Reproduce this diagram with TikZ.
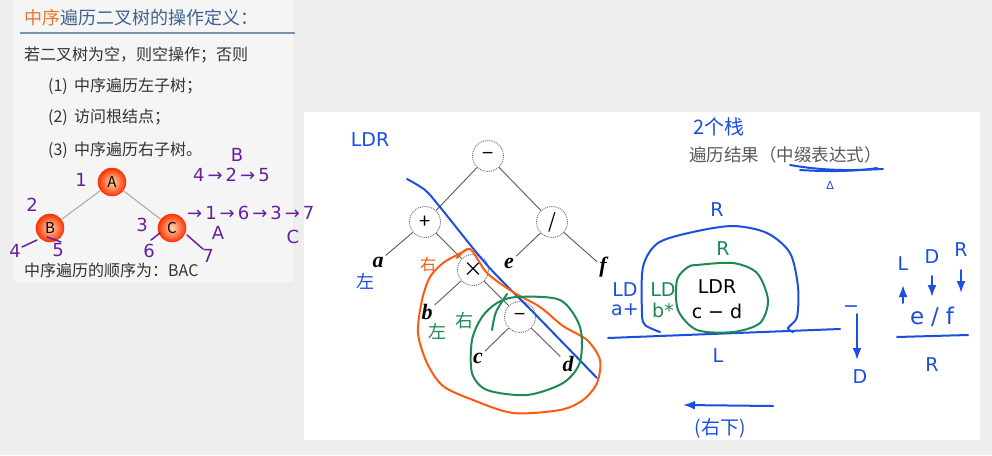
\documentclass[tikz,border=0pt]{standalone}
\usepackage{fontspec}
\setmainfont{Noto Sans CJK SC}
\newfontfamily\handfont{DejaVu Sans}
\newfontfamily\leaffont{Liberation Serif}
\newfontfamily\cjkhand{Noto Sans CJK SC}
\usetikzlibrary{arrows.meta,positioning,calc}
\definecolor{pagebg}{HTML}{EEEEEE}
\definecolor{panelbg}{HTML}{F5F5F5}
\definecolor{titleblue}{HTML}{3F6390}
\definecolor{titleorange}{HTML}{E8782A}
\definecolor{bodygray}{HTML}{333333}
\definecolor{inkblue}{HTML}{1A4FE0}
\definecolor{inkgreen}{HTML}{1E8A50}
\definecolor{inkorange}{HTML}{FF5A12}
\definecolor{inkpurple}{HTML}{6A1E9E}
\begin{document}
\begin{tikzpicture}[x=1pt,y=-1pt,>=Latex,
  slidetext/.style={anchor=west,inner sep=0pt,text=bodygray,font=\fontsize{16}{18}\selectfont},
  ballnode/.style={circle,minimum size=28pt,inner sep=0pt,draw=red!80!orange,inner color=orange!30!white,outer color=red!60!orange,font=\fontsize{15}{16}\selectfont},
  treeedge/.style={draw=gray!70,line width=1pt},
  opnode/.style={circle,draw=gray!80!black,densely dotted,line width=0.9pt,minimum size=31pt,inner sep=0pt,font=\fontsize{20}{20}\selectfont},
  leafnode/.style={inner sep=2pt,font=\leaffont\bfseries\itshape\fontsize{22}{22}\selectfont},
  opedge/.style={draw=gray!70!black,line width=0.9pt},
  purple ink/.style={text=inkpurple,inner sep=0pt,font=\handfont\fontsize{18}{19}\selectfont},
  blue ink/.style={text=inkblue,inner sep=0pt,font=\handfont\fontsize{19}{20}\selectfont},
  green ink/.style={text=inkgreen,inner sep=0pt,font=\handfont\fontsize{19}{20}\selectfont},
  black ink/.style={text=black,inner sep=0pt,font=\handfont\fontsize{19}{20}\selectfont},
  pen/.style={line width=2pt,line cap=round,line join=round}]
\fill[pagebg] (0,0) rectangle (992,455);
\useasboundingbox (0,0) rectangle (992,455);
\fill[panelbg] (14,0) rectangle (293,282);
\fill[white] (304,112) rectangle (980,440);

% slide: definition
\node[slidetext,text=titleblue,font=\fontsize{18}{20}\selectfont] (title) at (24,18) {\textcolor{titleorange}{中序}遍历二叉树的操作定义：};
\draw[titleblue!70,line width=1.2pt] (20,33) -- (295,33);
\node[slidetext] (rule) at (24,55) {若二叉树为空，则空操作；否则};
\node[slidetext] (step1) at (48,86) {(1)\, 中序遍历左子树；};
\node[slidetext] (step2) at (48,117) {(2)\, 访问根结点；};
\node[slidetext] (step3) at (48,150) {(3)\, 中序遍历右子树。};
\node[slidetext] (order) at (24,270) {中序遍历的顺序为：BAC};

% slide: small tree
\node[ballnode] (A) at (112,182) {A};
\node[ballnode] (B) at (50,228) {B};
\node[ballnode] (C) at (172,228) {C};
\draw[treeedge] (A) -- (B);
\draw[treeedge] (A) -- (C);

% purple notes
\node[purple ink] (n1) at (81,180) {1};
\node[purple ink] (n2) at (32,205) {2};
\node[purple ink] (n3) at (142,225) {3};
\node[purple ink] (n4) at (15,251) {4};
\node[purple ink] (n5) at (58,250) {5};
\node[purple ink] (n6) at (149,251) {6};
\node[purple ink] (n7) at (208,256) {7};
\draw[inkpurple,pen,line width=1.5pt] (22,247) -- (37,240);
\draw[inkpurple,pen,line width=1.5pt] (47,237) -- (61,242);
\draw[inkpurple,pen,line width=1.5pt] (151,240) -- (160,233);
\draw[inkpurple,pen,line width=1.5pt] (187,235) -- (203,249);
\node[purple ink] (subB) at (237,155) {B};
\node[purple ink,anchor=west] (leftseq) at (193,175) {4\,→\,2\,→\,5};
\node[purple ink,anchor=west] (mainseq) at (187,213) {→\,1\,→\,6\,→\,3\,→\,7};
\node[purple ink] (subA) at (218,233) {A};
\node[purple ink] (subC) at (293,237) {C};

% expression tree
\node[opnode] (root) at (488,156) {−};
\node[opnode] (plus) at (425,222) {+};
\node[opnode] (divide) at (552,222) {/};
\node[opnode] (times) at (473,270) {×};
\node[opnode] (minus) at (520,317) {−};
\node[leafnode] (la) at (378,262) {a};
\node[leafnode] (le) at (509,263) {e};
\node[leafnode] (lf) at (603,267) {f};
\node[leafnode] (lb) at (427,312) {b};
\node[leafnode] (lc) at (478,358) {c};
\node[leafnode] (ld) at (568,364) {d};
\draw[opedge] (root) -- (plus);
\draw[opedge] (root) -- (divide);
\draw[opedge] (plus) -- (la);
\draw[opedge] (plus) -- (times);
\draw[opedge] (divide) -- (le);
\draw[opedge] (divide) -- (lf);
\draw[opedge] (times) -- (lb);
\draw[opedge] (times) -- (minus);
\draw[opedge] (minus) -- (lc);
\draw[opedge] (minus) -- (ld);

% ink on the expression tree
\node[blue ink] (ldr) at (370,140) {LDR};
\node[blue ink,font=\cjkhand\fontsize{18}{18}\selectfont] (zuo1) at (365,281) {左};
\node[text=inkorange,inner sep=0pt,font=\cjkhand\fontsize{16}{16}\selectfont] (you1) at (428,264) {右};
\node[green ink,font=\cjkhand\fontsize{18}{18}\selectfont] (zuo2) at (437,331) {左};
\node[green ink,font=\cjkhand\fontsize{18}{18}\selectfont] (you2) at (464,321) {右};
\draw[inkblue,pen] plot[smooth] coordinates {(407,179) (425,190) (440,207) (487,265) (533,312) (597,378)};
\draw[inkorange,pen] plot[smooth] coordinates {(457,258) (470,249) (487,273) (513,292) (540,307) (563,326) (587,340) (600,360) (597,383) (583,400) (560,410) (513,413) (473,400) (443,386) (427,363) (418,333) (422,300) (430,277) (443,263) (457,255) (468,249)};
\draw[inkgreen,pen] plot[smooth cycle] coordinates {(517,297) (560,300) (580,327) (580,362) (563,383) (527,395) (487,390) (472,373) (472,340) (482,317) (497,303)};
\draw[inkgreen,pen] plot[smooth] coordinates {(492,330) (496,312) (507,294)};

% two stacks
\node[blue ink,font=\cjkhand\fontsize{20}{20}\selectfont] (stacks) at (719,127) {2个栈};
\node[anchor=west,inner sep=0pt,text=black!65,font=\fontsize{17.5}{19}\selectfont] (result) at (689,155) {遍历结果（中缀表达式）};
\draw[inkblue,pen] (790,165) .. controls (830,172) and (860,170) .. (883,169);
\draw[inkblue,pen] (800,170) .. controls (830,172) and (860,171) .. (877,168);
\node[blue ink,font=\handfont\fontsize{11}{11}\selectfont] (delta) at (830,185) {Δ};

% blobs
\draw[inkblue,pen] plot[smooth] coordinates {(660,332) (645,325) (642,313) (643,267) (658,243) (693,232) (733,226) (767,233) (790,253) (798,287) (797,317) (788,328) (793,332)};
\draw[inkblue,pen] (608,338) -- (840,329);
\draw[inkgreen,pen] plot[smooth cycle] coordinates {(697,265) (733,263) (757,273) (768,300) (760,323) (733,332) (697,330) (678,310) (677,280) (688,267)};
\node[blue ink] (outerR) at (717,210) {R};
\node[green ink] (innerR) at (723,249) {R};
\node[blue ink] (outerL) at (718,356) {L};
\node[black ink] (cldr) at (717,287) {LDR};
\node[black ink] (cmd) at (717,311) {c − d};
\node[blue ink] (ald) at (625,290) {LD};
\node[blue ink] (aplus) at (625,310) {a+};
\node[green ink] (bld) at (663,290) {LD};
\node[green ink] (btimes) at (663,310) {b*};

% root goes down
\node[blue ink] (rootminus) at (851,309) {−};
\node[blue ink] (rootD) at (860,377) {D};
\draw[inkblue,pen,->] (857,314) -- (857,360);

% right subtree e / f
\node[blue ink] (eL) at (903,264) {L};
\node[blue ink] (eD) at (932,257) {D};
\node[blue ink] (eR) at (961,250) {R};
\node[blue ink,font=\handfont\fontsize{23}{24}\selectfont] (ef) at (932,317) {e\hspace{7pt}/\hspace{7pt}f};
\draw[inkblue,pen,->] (903,303) -- (903,285);
\draw[inkblue,pen,->] (932,276) -- (932,297);
\draw[inkblue,pen,->] (961,270) -- (961,293);
\draw[inkblue,pen] (897,337) -- (968,335);
\node[blue ink] (efR) at (932,365) {R};

% bottom-right direction
\draw[inkblue,pen,->] (773,406) -- (683,405);
\node[blue ink,font=\cjkhand\fontsize{19}{19}\selectfont] (youxia) at (720,428) {(右下)};
\end{tikzpicture}
\end{document}
